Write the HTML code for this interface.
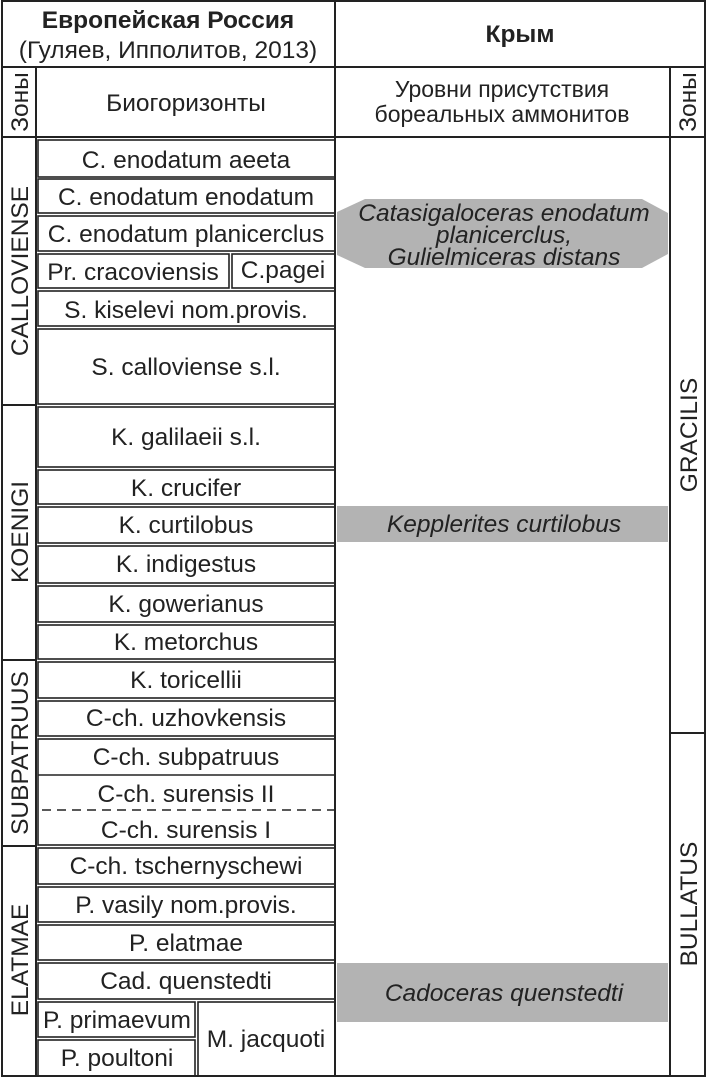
<!DOCTYPE html>
<html><head><meta charset="utf-8"><style>
html,body{margin:0;padding:0;background:#fff;}
svg{display:block;font-family:"Liberation Sans",Arial,sans-serif;}
</style></head><body>
<svg width="707" height="1078" viewBox="0 0 707 1078" xmlns="http://www.w3.org/2000/svg">
<g fill="none" stroke="#222" stroke-width="2">
<rect x="2" y="1" width="703" height="1075"/>
<line x1="335" y1="1" x2="335" y2="1076"/>
<line x1="2" y1="67" x2="705" y2="67"/>
<line x1="2" y1="137" x2="705" y2="137"/>
<line x1="36" y1="67" x2="36" y2="1076"/>
<line x1="670" y1="67" x2="670" y2="1076"/>
<line x1="670" y1="733" x2="705" y2="733"/>
<line x1="2" y1="405" x2="36" y2="405"/>
<line x1="2" y1="660" x2="36" y2="660"/>
<line x1="2" y1="846" x2="36" y2="846"/>
</g>
<g fill="none" stroke="#222" stroke-width="1.6">
<rect x="38" y="140" width="297" height="37"/>
<rect x="38" y="179" width="297" height="34"/>
<rect x="38" y="216" width="297" height="35"/>
<rect x="38" y="254" width="191" height="34"/>
<rect x="232" y="254" width="103" height="34"/>
<rect x="38" y="291" width="297" height="35"/>
<rect x="38" y="329" width="297" height="75"/>
<rect x="38" y="407" width="297" height="60"/>
<rect x="38" y="470" width="297" height="34"/>
<rect x="38" y="507" width="297" height="36"/>
<rect x="38" y="546" width="297" height="37"/>
<rect x="38" y="586" width="297" height="36"/>
<rect x="38" y="625" width="297" height="34"/>
<rect x="38" y="662" width="297" height="36"/>
<rect x="38" y="701" width="297" height="35"/>
<rect x="38" y="739" width="297" height="106"/>
<rect x="38" y="848" width="297" height="36"/>
<rect x="38" y="887" width="297" height="35"/>
<rect x="38" y="925" width="297" height="35"/>
<rect x="38" y="963" width="297" height="36"/>
<rect x="38" y="1002" width="157" height="35"/>
<rect x="38" y="1040" width="157" height="36"/>
<rect x="198" y="1002" width="137" height="74"/>
</g>
<line x1="38" y1="775" x2="335" y2="775" stroke="#222" stroke-width="1.6"/>
<line x1="42" y1="810" x2="335" y2="810" stroke="#222" stroke-width="1.6" stroke-dasharray="9,6"/>
<polygon points="365,199 642,199 668,213 668,254 642,268 365,268 337,255 337,212" fill="#b3b3b3"/>
<rect x="337" y="506" width="331" height="36" fill="#b3b3b3"/>
<rect x="337" y="963" width="331" height="59" fill="#b3b3b3"/>
<g fill="#222" font-size="24.5" text-anchor="middle">
<text x="168" y="28" font-weight="bold">Европейская Россия</text>
<text x="168" y="58">(Гуляев, Ипполитов, 2013)</text>
<text x="520" y="42" font-weight="bold">Крым</text>
<text x="186" y="111">Биогоризонты</text>
<text x="502" y="97" font-size="23">Уровни присутствия</text>
<text x="502" y="122" font-size="23">бореальных аммонитов</text>
<text x="186" y="168">C. enodatum aeeta</text>
<text x="186" y="205">C. enodatum enodatum</text>
<text x="186" y="242">C. enodatum planicerclus</text>
<text x="133" y="280">Pr. cracoviensis</text>
<text x="283" y="278">C.pagei</text>
<text x="186" y="318">S. kiselevi nom.provis.</text>
<text x="186" y="375">S. calloviense s.l.</text>
<text x="186" y="445">K. galilaeii s.l.</text>
<text x="186" y="496">K. crucifer</text>
<text x="186" y="533">K. curtilobus</text>
<text x="186" y="572">K. indigestus</text>
<text x="186" y="612">K. gowerianus</text>
<text x="186" y="650">K. metorchus</text>
<text x="186" y="688">K. toricellii</text>
<text x="186" y="726">C-ch. uzhovkensis</text>
<text x="186" y="765">C-ch. subpatruus</text>
<text x="186" y="802">C-ch. surensis II</text>
<text x="186" y="838">C-ch. surensis I</text>
<text x="186" y="874">C-ch. tschernyschewi</text>
<text x="186" y="913">P. vasily nom.provis.</text>
<text x="186" y="951">P. elatmae</text>
<text x="186" y="989">Cad. quenstedti</text>
<text x="117" y="1028">P. primaevum</text>
<text x="117" y="1066">P. poultoni</text>
<text x="266" y="1047">M. jacquoti</text>
<g font-style="italic">
<text x="504" y="221">Catasigaloceras enodatum</text>
<text x="504" y="243">planicerclus,</text>
<text x="504" y="265">Gulielmiceras distans</text>
<text x="504" y="532">Kepplerites curtilobus</text>
<text x="504" y="1001">Cadoceras quenstedti</text>
</g>
<text transform="translate(28,102) rotate(-90)">Зоны</text>
<text transform="translate(696,102) rotate(-90)">Зоны</text>
<text transform="translate(28,271) rotate(-90)">CALLOVIENSE</text>
<text transform="translate(28,532) rotate(-90)">KOENIGI</text>
<text transform="translate(28,753) rotate(-90)">SUBPATRUUS</text>
<text transform="translate(28,960) rotate(-90)">ELATMAE</text>
<text transform="translate(697,435) rotate(-90)">GRACILIS</text>
<text transform="translate(697,904) rotate(-90)">BULLATUS</text>
</g>
</svg>
</body></html>
